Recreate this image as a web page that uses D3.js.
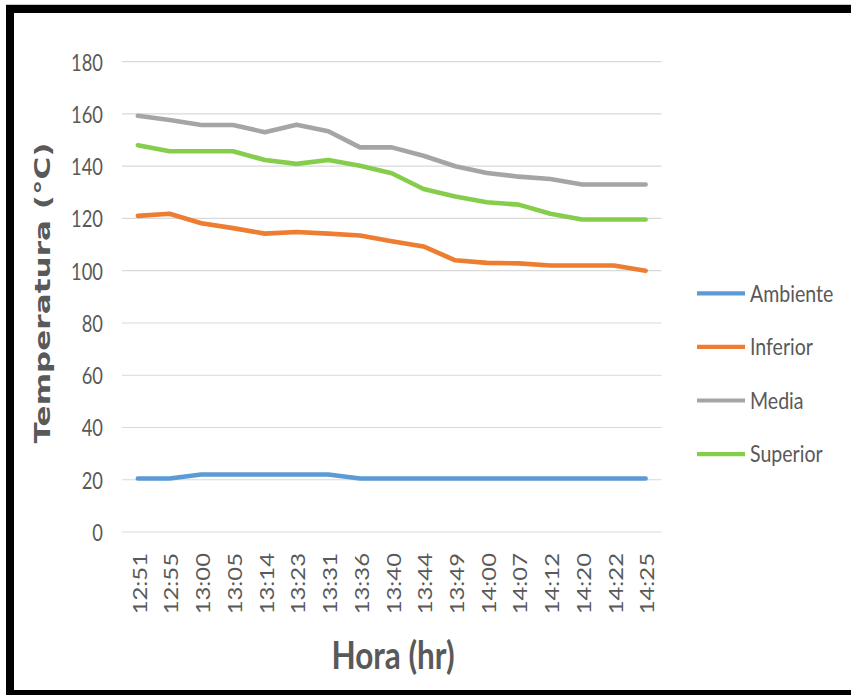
<!DOCTYPE html>
<html>
<head>
<meta charset="utf-8">
<script src="https://cdn.jsdelivr.net/npm/d3@7"></script>
<style>
  html, body { margin: 0; padding: 0; background: #fff; }
  svg { display: block; }
  text { fill: #595959; }
</style>
</head>
<body>
<svg id="chart" width="851" height="695"></svg>
<script>
// Hourly temperature readings
const horas = ["12:51","12:55","13:00","13:05","13:14","13:23","13:31","13:36","13:40",
               "13:44","13:49","14:00","14:07","14:12","14:20","14:22","14:25"];
const ambiente = [20.5,20.5,22,22,22,22,22,20.5,20.5,20.5,20.5,20.5,20.5,20.5,20.5,20.5,20.5];
const inferior = [121,121.8,118.2,116.3,114.2,114.8,114.2,113.5,111.3,109.3,104,103,102.8,102,102,102,100];
const media    = [159.3,157.7,155.8,155.8,153,155.9,153.4,147.2,147.2,144,140,137.4,136,135.1,133,133,133];
const superior = [148,145.7,145.7,145.7,142.4,140.9,142.4,140.2,137.3,131.3,128.4,126.2,125.3,121.8,119.6,119.6,119.6];
const yTicks = [0,20,40,60,80,100,120,140,160,180];

const seriesNames  = ["Ambiente","Inferior","Media","Superior"];
const seriesValues = [ambiente, inferior, media, superior];
const seriesColors = ["#5B9BD5","#ED7D31","#A5A5A5","#86CD4C"];

const svg = d3.select("#chart");

// squeeze or stretch a text element relative to its natural width
function fit(sel, factor) {
  sel.each(function () {
    const w = this.getComputedTextLength();
    d3.select(this).attr("textLength", w * factor).attr("lengthAdjust", "spacingAndGlyphs");
  });
}

const x = d3.scalePoint().domain(horas).range([122, 661.5]).padding(0.5);
const y = d3.scaleLinear().domain([0, 180]).range([532, 61.7]);

// gridlines
svg.append("g").selectAll("line").data(yTicks).join("line")
  .attr("x1", 122).attr("x2", 661.5)
  .attr("y1", d => y(d)).attr("y2", d => y(d))
  .attr("stroke", "#d9d9d9").attr("stroke-width", 1.2);

// y axis labels
const yAxis = svg.append("g").attr("transform", "translate(103,0)")
  .call(d3.axisLeft(y).tickValues(yTicks).tickSize(0).tickPadding(0));
yAxis.select(".domain").remove();
yAxis.selectAll("text")
  .attr("x", 0).attr("dy", "0.36em")
  .style("font-family", "Lato").style("font-size", "23.5px").attr("fill", "#595959");
fit(yAxis.selectAll("text"), 0.78);

// x axis labels, rotated
const xAxis = svg.append("g").selectAll("text").data(horas).join("text")
  .attr("transform", d => `translate(${x(d) + 2},553) rotate(-90)`)
  .attr("text-anchor", "end").attr("dy", "0.36em")
  .style("font-family", "Lato").style("font-size", "18.8px")
  .text(d => d);
fit(xAxis, 1.27);

// series lines
const line = d3.line().x((d, i) => x(horas[i])).y(d => y(d));
svg.append("g").selectAll("path").data(seriesValues).join("path")
  .attr("d", d => line(d))
  .attr("fill", "none")
  .attr("stroke", (d, i) => seriesColors[i])
  .attr("stroke-width", 4.6)
  .attr("stroke-linejoin", "round")
  .attr("stroke-linecap", "round");

// legend
const legend = svg.append("g").selectAll("g").data(seriesNames).join("g")
  .attr("transform", (d, i) => `translate(697,${293.3 + i * 53.6})`);
legend.append("line").attr("x1", 0).attr("x2", 48)
  .attr("stroke", (d, i) => seriesColors[i]).attr("stroke-width", 4.2);
const legText = legend.append("text").attr("x", 53).attr("dy", "0.36em")
  .style("font-family", "Lato").style("font-size", "23px")
  .text(d => d);
fit(legText, 0.85);

// axis titles
const xTitle = svg.append("text")
  .attr("x", 393).attr("y", 669).attr("text-anchor", "middle")
  .style("font-family", "Lato").style("font-weight", "bold").style("font-size", "37.5px")
  .text("Hora (hr)");
fit(xTitle, 0.84);

// vertical title, stretched along its reading direction
const yTitle = svg.append("text")
  .attr("text-anchor", "middle").attr("dy", "0.36em")
  .style("font-family", "DejaVu Sans").style("font-weight", "bold").style("font-size", "21px")
  .text("Temperatura (°C)");
const yTitleStretch = 1.48;
yTitle.attr("transform", `translate(42,293) rotate(-90) scale(${yTitleStretch},1)`);

// frame
svg.append("line").attr("x1", 6).attr("x2", 851).attr("y1", 4.5).attr("y2", 4.5)
  .attr("stroke", "#c8c8c8").attr("stroke-width", 1);
svg.append("rect").attr("x", 10).attr("y", 9).attr("width", 900).attr("height", 685)
  .attr("fill", "none").attr("stroke", "#000").attr("stroke-width", 8);
</script>
</body>
</html>
